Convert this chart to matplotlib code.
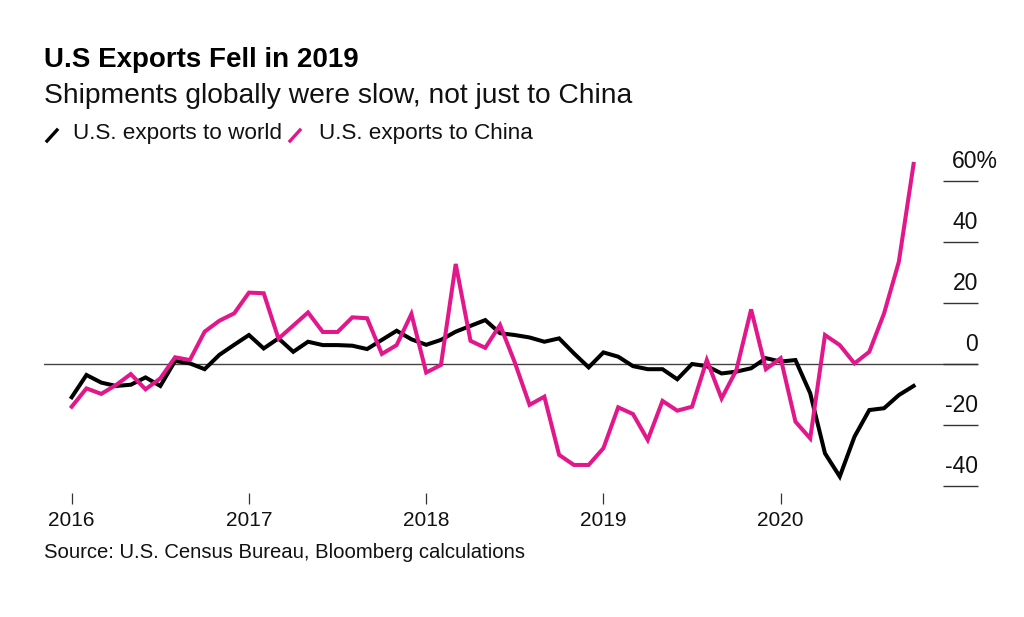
import numpy as np
import pandas as pd
import matplotlib
matplotlib.use("Agg")
import matplotlib.pyplot as plt
from matplotlib.lines import Line2D

plt.rcParams['font.family'] = ['Liberation Sans', 'DejaVu Sans']

# monthly, Jan 2016 - Oct 2020, % change y/y
months = pd.date_range('2016-01-01', periods=58, freq='MS')
world = [-10.9, -3.6, -6.1, -7.2, -6.8, -4.4, -7.2, 1.0, 0.2, -1.7,
         3.0, 6.3, 9.5, 5.1, 8.4, 4.0, 7.3, 6.2, 6.2, 6.0,
         4.9, 7.9, 10.9, 8.1, 6.3, 7.9, 10.6, 12.5, 14.4, 10.1,
         9.5, 8.7, 7.3, 8.4, 3.5, -1.1, 3.8, 2.4, -0.7, -1.7,
         -1.7, -5.0, 0.0, -0.7, -3.1, -2.5, -1.4, 1.9, 0.8, 1.3,
         -9.6, -29.3, -36.9, -23.8, -15.1, -14.5, -10.2, -7.2]
china = [-14.0, -8.0, -9.8, -6.9, -3.3, -8.3, -4.7, 2.2, 1.3, 10.6,
         14.2, 16.6, 23.4, 23.2, 8.3, 12.6, 16.9, 10.5, 10.5, 15.3,
         15.0, 3.3, 6.2, 16.4, -2.8, -0.3, 32.8, 7.6, 5.3, 12.8,
         0.5, -13.4, -10.7, -29.8, -33.1, -33.1, -27.6, -14.2, -16.4, -24.9,
         -12.1, -15.3, -14.0, 1.3, -11.3, -2.0, 17.9, -1.7, 1.9, -18.9,
         -24.4, 9.5, 6.2, 0.2, 4.0, 16.6, 33.5, 65.6]

year_ticks = ['2016', '2017', '2018', '2019', '2020']
y_ticks = [60, 40, 20, 0, -20, -40]
y_labels = ['60%', '40', '20', '0', '-20', '-40']

PINK = '#e3178c'
W, H = 1024, 617

fig = plt.figure(figsize=(W / 100, H / 100), dpi=100)
# axes box in pixels: x 44..978, y 150..493
ax = fig.add_axes([44 / W, 1 - 493 / H, (978 - 44) / W, (493 - 150) / H])

x = np.arange(len(months))
ax.plot(x, world, color='black', lw=2.9, solid_joinstyle='miter', zorder=3)
ax.plot(x, china, color=PINK, lw=2.9, solid_joinstyle='miter', zorder=4)
ax.axhline(0, color='#444444', lw=1.0, zorder=2)

ax.set_xlim(-1.875, 61.36)
ax.set_ylim((364 - 493) / 3.05, (364 - 150) / 3.05)

for s in ax.spines.values():
    s.set_visible(False)

ax.set_xticks([0, 12, 24, 36, 48])
ax.set_xticklabels(year_ticks)
ax.tick_params(axis='x', direction='out', length=7.9, width=0.9, color='#333333',
               pad=5, labelsize=15, labelcolor='#111111')
ax.set_yticks([])

# right side value labels with short rule under each
tr = ax.get_yaxis_transform()
ax.hlines(y_ticks, (943 - 44) / 934, 1.0, transform=tr, color='#333333', lw=1.0, clip_on=False)
for v, lab in zip(y_ticks, y_labels):
    xx = 1.0 if lab != '60%' else (998 - 44) / 934
    ax.text(xx, v + 6.3, lab, transform=tr, ha='right', va='center',
            fontsize=16.5, color='#111111', clip_on=False)

fig.text(44 / W, 1 - 60 / H, 'U.S Exports Fell in 2019', fontsize=20, fontweight='bold',
         va='center', ha='left', color='black')
fig.text(44 / W, 1 - 96 / H, 'Shipments globally were slow, not just to China', fontsize=20.3,
         va='center', ha='left', color='#111111')

# legend
fig.add_artist(Line2D([47 / W, 57 / W], [1 - 141 / H, 1 - 130 / H], color='black', lw=2.4))
fig.text(73 / W, 1 - 133 / H, 'U.S. exports to world', fontsize=16.2, va='center', ha='left', color='#111111')
fig.add_artist(Line2D([290 / W, 300 / W], [1 - 141 / H, 1 - 130 / H], color=PINK, lw=2.4))
fig.text(319 / W, 1 - 133 / H, 'U.S. exports to China', fontsize=16.2, va='center', ha='left', color='#111111')

fig.text(44 / W, 1 - 552 / H, 'Source: U.S. Census Bureau, Bloomberg calculations', fontsize=14.6,
         va='center', ha='left', color='#111111')

fig.savefig('out.png', dpi=100, facecolor='white')
